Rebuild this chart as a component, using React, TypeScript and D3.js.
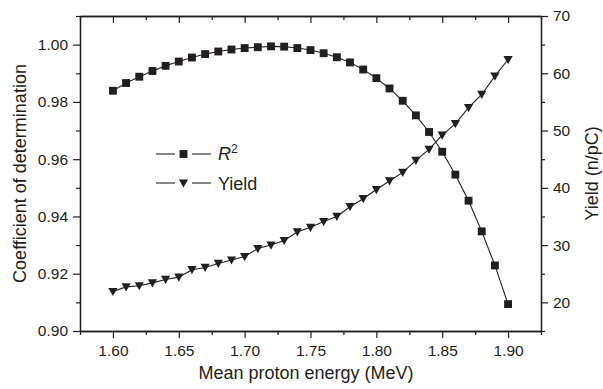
import React, { useEffect, useRef } from 'react';
import * as d3 from 'd3';

// Mean proton energy (MeV)
const energy = [
  1.60, 1.61, 1.62, 1.63, 1.64, 1.65, 1.66, 1.67, 1.68, 1.69, 1.70,
  1.71, 1.72, 1.73, 1.74, 1.75, 1.76, 1.77, 1.78, 1.79, 1.80,
  1.81, 1.82, 1.83, 1.84, 1.85, 1.86, 1.87, 1.88, 1.89, 1.90,
];

// Coefficient of determination (R^2)
const r2 = [
  0.9839, 0.9866, 0.9888, 0.9908, 0.9926, 0.9941, 0.9955, 0.9967, 0.9976, 0.9983, 0.9988,
  0.9991, 0.9994, 0.9993, 0.9988, 0.9981, 0.9970, 0.9956, 0.9938, 0.9913, 0.9883,
  0.9847, 0.9804, 0.9753, 0.9695, 0.9626, 0.9546, 0.9455, 0.9348, 0.9229, 0.9094,
];

// Yield (n/pC)
const yieldValues = [
  21.9, 22.7, 22.9, 23.4, 24.0, 24.4, 25.7, 26.1, 26.8, 27.4, 28.0,
  29.4, 30.0, 30.8, 32.3, 33.1, 34.1, 35.0, 36.7, 38.1, 39.7,
  41.2, 42.7, 44.8, 46.7, 49.2, 51.2, 54.0, 56.3, 59.5, 62.4,
];

const xTicks = [1.60, 1.65, 1.70, 1.75, 1.80, 1.85, 1.90];
const xMinorTicks = [1.575, 1.625, 1.675, 1.725, 1.775, 1.825, 1.875, 1.925];
const leftTicks = [0.90, 0.92, 0.94, 0.96, 0.98, 1.00];
const leftMinorTicks = [0.91, 0.93, 0.95, 0.97, 0.99, 1.01];
const rightTicks = [20, 30, 40, 50, 60, 70];
const rightMinorTicks = [15, 25, 35, 45, 55, 65];

const App = () => {
  const ref = useRef<SVGSVGElement>(null);

  useEffect(() => {
    const svg = d3.select(ref.current);
    svg.selectAll('*').remove();

    const left = 80, right = 541, top = 16, bottom = 331;
    const font = 'Liberation Sans, Arial, Helvetica, sans-serif';
    const ink = '#231f20';

    const x = d3.scaleLinear().domain([1.575, 1.925]).range([left, right]);
    const yL = d3.scaleLinear().domain([0.90, 1.01]).range([bottom, top]);
    const yR = d3.scaleLinear().domain([15, 70]).range([bottom, top]);

    const axisStyle = (g: any) => {
      g.select('.domain').attr('stroke', ink).attr('stroke-width', 1.3);
      g.selectAll('.tick line').attr('stroke', ink).attr('stroke-width', 1.2);
      g.selectAll('.tick text')
        .attr('font-family', font)
        .attr('font-size', 15.5)
        .attr('fill', ink);
    };

    // bottom axis
    svg.append('g')
      .attr('transform', `translate(0,${bottom})`)
      .call(d3.axisBottom(x).tickValues(xTicks).tickFormat(d3.format('.2f')).tickSize(7).tickSizeOuter(0).tickPadding(7))
      .call(axisStyle);
    svg.append('g')
      .attr('transform', `translate(0,${bottom})`)
      .call(d3.axisBottom(x).tickValues(xMinorTicks).tickFormat(() => '').tickSize(4).tickSizeOuter(0))
      .call(axisStyle);

    // top axis (ticks inward)
    svg.append('g')
      .attr('transform', `translate(0,${top})`)
      .call(d3.axisBottom(x).tickValues(xTicks).tickFormat(() => '').tickSize(7).tickSizeOuter(0))
      .call(axisStyle);
    svg.append('g')
      .attr('transform', `translate(0,${top})`)
      .call(d3.axisBottom(x).tickValues(xMinorTicks).tickFormat(() => '').tickSize(4).tickSizeOuter(0))
      .call(axisStyle);

    // left axis
    svg.append('g')
      .attr('transform', `translate(${left},0)`)
      .call(d3.axisLeft(yL).tickValues(leftTicks).tickFormat(d3.format('.2f')).tickSize(7).tickSizeOuter(0).tickPadding(5))
      .call(axisStyle);
    svg.append('g')
      .attr('transform', `translate(${left},0)`)
      .call(d3.axisLeft(yL).tickValues(leftMinorTicks).tickFormat(() => '').tickSize(4).tickSizeOuter(0))
      .call(axisStyle);

    // right axis
    svg.append('g')
      .attr('transform', `translate(${right},0)`)
      .call(d3.axisRight(yR).tickValues(rightTicks).tickSize(7).tickSizeOuter(0).tickPadding(5))
      .call(axisStyle);
    svg.append('g')
      .attr('transform', `translate(${right},0)`)
      .call(d3.axisRight(yR).tickValues(rightMinorTicks).tickFormat(() => '').tickSize(4).tickSizeOuter(0))
      .call(axisStyle);

    // axis titles
    svg.append('text')
      .attr('x', 306)
      .attr('y', 379)
      .attr('text-anchor', 'middle')
      .attr('font-family', font)
      .attr('font-size', 18)
      .attr('fill', ink)
      .text('Mean proton energy (MeV)');

    svg.append('text')
      .attr('transform', `translate(26,${(top + bottom) / 2}) rotate(-90)`)
      .attr('text-anchor', 'middle')
      .attr('font-family', font)
      .attr('font-size', 18)
      .attr('fill', ink)
      .text('Coefficient of determination');

    svg.append('text')
      .attr('transform', `translate(598,${(top + bottom) / 2}) rotate(-90)`)
      .attr('text-anchor', 'middle')
      .attr('font-family', font)
      .attr('font-size', 18)
      .attr('fill', ink)
      .text('Yield (n/pC)');

    const r2Data = energy.map((e, i) => ({ e, v: r2[i] }));
    const yieldData = energy.map((e, i) => ({ e, v: yieldValues[i] }));

    // lines
    svg.append('path')
      .datum(r2Data)
      .attr('fill', 'none')
      .attr('stroke', ink)
      .attr('stroke-width', 1.1)
      .attr('d', d3.line<any>().x(d => x(d.e)).y(d => yL(d.v)));

    svg.append('path')
      .datum(yieldData)
      .attr('fill', 'none')
      .attr('stroke', ink)
      .attr('stroke-width', 1.1)
      .attr('d', d3.line<any>().x(d => x(d.e)).y(d => yR(d.v)));

    const square = d3.symbol().type(d3.symbolSquare).size(62);
    const triangle = 'M-4.6,-3.6L4.6,-3.6L0,4.6Z';

    svg.append('g')
      .selectAll('path')
      .data(r2Data)
      .join('path')
      .attr('transform', d => `translate(${x(d.e)},${yL(d.v)})`)
      .attr('d', square() as string)
      .attr('fill', ink);

    svg.append('g')
      .selectAll('path')
      .data(yieldData)
      .join('path')
      .attr('transform', d => `translate(${x(d.e)},${yR(d.v)})`)
      .attr('d', triangle)
      .attr('fill', ink);

    // legend
    const legend = svg.append('g').attr('transform', 'translate(156,154)');
    [0, 29].forEach((dy, i) => {
      legend.append('line')
        .attr('x1', 0).attr('x2', 19).attr('y1', dy).attr('y2', dy)
        .attr('stroke', ink).attr('stroke-width', 1.1);
      legend.append('line')
        .attr('x1', 36).attr('x2', 55).attr('y1', dy).attr('y2', dy)
        .attr('stroke', ink).attr('stroke-width', 1.1);
      legend.append('path')
        .attr('transform', `translate(27.5,${dy})`)
        .attr('d', i === 0 ? (square() as string) : triangle)
        .attr('fill', ink);
    });
    const r2Label = legend.append('text')
      .attr('x', 62).attr('y', 5.5)
      .attr('font-family', font)
      .attr('font-size', 18)
      .attr('fill', ink);
    r2Label.append('tspan').attr('font-style', 'italic').text('R');
    r2Label.append('tspan').attr('font-size', 12).attr('dy', -7).text('2');
    legend.append('text')
      .attr('x', 62).attr('y', 36)
      .attr('font-family', font)
      .attr('font-size', 18)
      .attr('fill', ink)
      .text('Yield');
  }, []);

  return (
    <svg
      ref={ref}
      width={603}
      height={389}
      style={{ position: 'absolute', left: 0, top: 0, background: '#fff' }}
    />
  );
};

export default App;
